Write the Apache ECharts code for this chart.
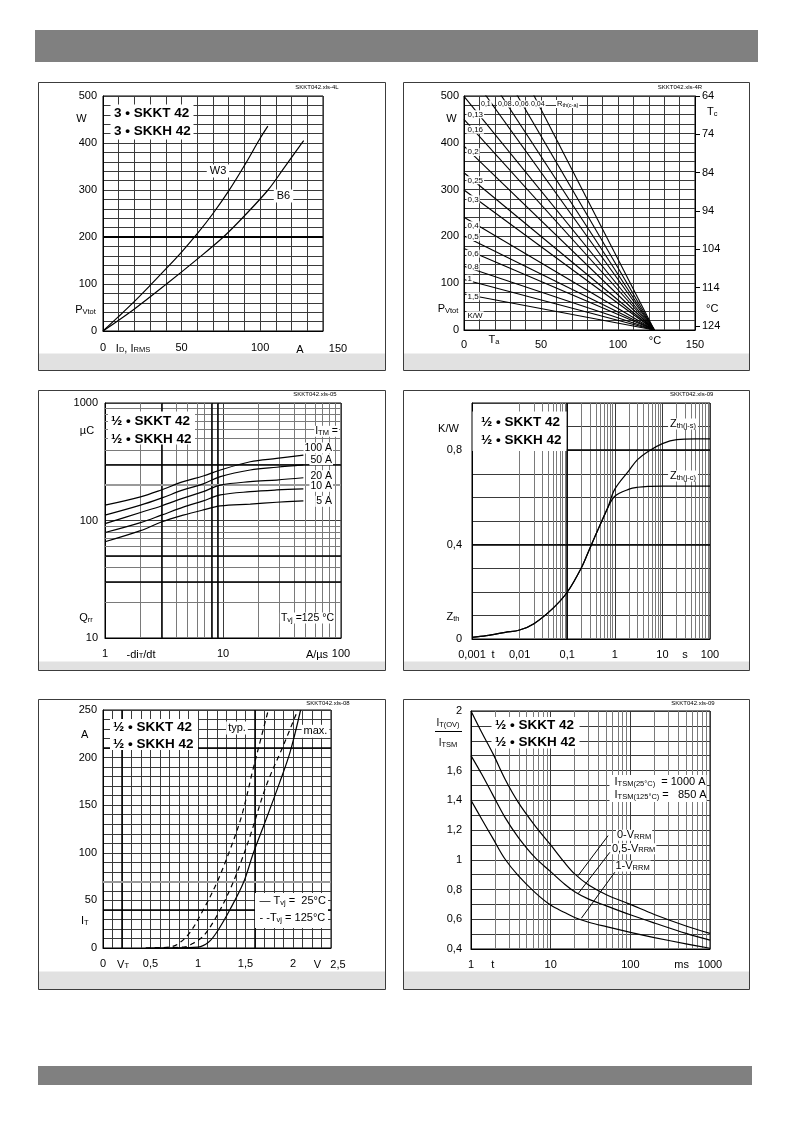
<!DOCTYPE html>
<html><head><meta charset="utf-8">
<script src="https://cdn.jsdelivr.net/npm/echarts/dist/echarts.min.js"></script>
<style>html,body{margin:0;padding:0;background:#fff}#c{width:793px;height:1123px}</style>
</head><body><div id="c"></div>
<script>
// ---------- DATA ----------
// Panel 1: P_Vtot (W) vs I_D / I_RMS (A)
const p1CurrentW3 = [0, 10, 20, 30, 40, 50, 60, 70, 80, 90, 100, 104.9];
const p1PowerW3   = [0, 31, 63, 97, 132, 168, 207, 250, 298, 352, 410, 436];
const p1CurrentB6 = [0, 20, 40.4, 60, 76.6, 90, 105, 115, 125.5, 127.7];
const p1PowerB6   = [0, 47, 100, 153, 200, 245, 300, 346, 395, 405];

// Panel 2: P_Vtot vs T_a for R_th(c-a) values; power at T_a = 0 and common zero-power point
const p2RthLabels   = ['0,04', '0,06', '0,08', '0,1', '0,13', '0,16', '0,2', '0,25', '0,3', '0,4', '0,5', '0,6', '0,8', '1', '1,5'];
const p2PowerAtTa0  = [792, 696, 623, 566, 499, 450, 393, 336, 299, 241, 201, 174, 136, 108, 77];
const p2TaZeroPower = 123.6;

// Panel 3: Q_rr (µC) vs -di/dt (A/µs) for I_TM
const p3Didt   = [1, 2, 3, 4.6, 6.8, 9.5, 17, 28.5, 48];
const p3Q100A  = [135, 159, 182, 214, 239, 269, 316, 338, 360];
const p3Q50A   = [111, 135, 155, 182, 205, 236, 269, 284, 297];
const p3Q20A   = [94, 117, 133, 155, 176, 200, 214, 221, 231];
const p3Q10A   = [79, 96, 111, 130, 147, 165, 176, 182, 186];
const p3Q5A    = [66, 82, 97, 111, 123, 133, 138, 143, 147];

// Panel 4: Z_th (K/W) vs t (s)
const p4TimeCommon = [0.001, 0.002, 0.005, 0.01, 0.02, 0.05, 0.1, 0.2, 0.3, 0.5, 0.7];
const p4ZthCommon  = [0.007, 0.014, 0.028, 0.038, 0.065, 0.13, 0.198, 0.303, 0.385, 0.487, 0.553];
const p4TimeTail   = [1, 2, 3, 5, 10, 20, 50, 100];
const p4ZthJC      = [0.605, 0.635, 0.643, 0.647, 0.648, 0.648, 0.648, 0.648];
const p4ZthJS      = [0.635, 0.715, 0.76, 0.795, 0.828, 0.845, 0.848, 0.848];

// Panel 5: I_T (A) vs V_T (V)
const p5VDashTyp = [0.45, 0.7, 0.8, 0.92, 1.06, 1.2, 1.34, 1.46, 1.58, 1.67, 1.74];
const p5IDashTyp = [0, 1, 5, 17, 41, 69, 104, 139, 188, 223, 250];
const p5VDashMax = [0.45, 0.85, 0.95, 1.06, 1.2, 1.34, 1.44, 1.55, 1.72, 1.9, 2.05];
const p5IDashMax = [0, 1, 5, 13, 34, 62, 87, 118, 171, 213, 250];
const p5VSolid   = [0.5, 1.0, 1.11, 1.2, 1.34, 1.48, 1.58, 1.72, 1.86, 1.97, 2.08];
const p5ISolid   = [0, 1, 6, 17, 41, 69, 99, 136, 174, 206, 250];

// Panel 6: I_T(OV)/I_TSM vs t (ms)
const p6Time = [1, 1.36, 1.9, 2.67, 3.92, 6.34, 10, 15, 20, 30, 50, 100, 200, 500, 1000];
const p6V0   = [2.0, 1.857, 1.71, 1.543, 1.386, 1.23, 1.10, 0.98, 0.905, 0.83, 0.765, 0.70, 0.632, 0.555, 0.505];
const p6V05  = [1.70, 1.576, 1.431, 1.285, 1.151, 1.016, 0.92, 0.835, 0.785, 0.735, 0.69, 0.63, 0.575, 0.505, 0.46];
const p6V1   = [1.40, 1.274, 1.14, 1.005, 0.893, 0.781, 0.695, 0.645, 0.612, 0.58, 0.55, 0.512, 0.477, 0.435, 0.405];
const p6LeaderFrom = [[52.6, 1.162], [55.3, 1.05], [63.9, 0.916]];
const p6LeaderTo   = [[22.1, 0.893], [22.1, 0.772], [24.3, 0.607]];

// Tick label values shown
const p1XLabels = [0, 50, 100];
const p1YLabels = [0, 100, 200, 300, 400, 500];
const p2XLabels = [0, 50, 100, 150];
const p4YLabels = [0, 0.4, 0.8];
const p5XLabels = [0, 0.5, 1, 1.5, 2];
const p5YLabels = [0, 50, 100, 150, 200, 250];
const p6YLabels = [0.4, 0.6, 0.8, 1, 1.2, 1.4, 1.6, 2];

// ---------- STYLE / HELPERS ----------
const FONT = "'Liberation Sans', Arial, Helvetica, sans-serif";
const GRID = '#3a3a3a';
const MINOR = '#7a7a7a';
const RICH = {
  s:  { font: '7.5px ' + FONT, verticalAlign: 'bottom' },
  t:  { font: '5.5px ' + FONT, verticalAlign: 'bottom' }
};
const comma = v => String(+(+v).toPrecision(6)).replace('.', ',');
const near = (v, list) => list.some(a => Math.abs(a - v) < 1e-6);

function T(x, y, text, o) {
  o = o || {};
  const size = o.size || 11;
  const st = {
    text: text, x: x, y: y, fill: '#000',
    font: (o.bold ? 'bold ' : '') + size + 'px ' + FONT,
    align: o.align || 'center', verticalAlign: 'middle',
    textAlign: o.align || 'center', textVerticalAlign: 'middle',
    rich: RICH
  };
  if (o.bg) { st.backgroundColor = o.bg; st.padding = o.pad || [0, 2]; }
  return { type: 'text', z: 100, silent: true, style: st };
}
function R(x, y, w, h, fill, stroke, z) {
  return { type: 'rect', z: z || 0, silent: true, shape: { x: x, y: y, width: w, height: h },
    style: { fill: fill || 'none', stroke: stroke || null, lineWidth: 1 } };
}
function L(x1, y1, x2, y2) {
  return { type: 'line', z: 100, silent: true, shape: { x1: x1, y1: y1, x2: x2, y2: y2 }, style: { stroke: '#000', lineWidth: 1 } };
}
function logMinor(e0, e1) { const out = []; for (let e = e0; e < e1; e++) for (let k = 2; k <= 9; k++) out.push(+(k * Math.pow(10, e)).toPrecision(6)); return out; }

function axis(gi, type, o) {
  const a = {
    type: type, gridIndex: gi, min: o.min, max: o.max,
    axisLine: { show: true, onZero: false, lineStyle: { color: '#000', width: 1 } },
    axisTick: { show: false },
    axisLabel: { color: '#000', fontSize: 11, fontFamily: FONT, margin: o.margin, formatter: o.fmt, showMinLabel: true, showMaxLabel: true, hideOverlap: false },
    splitLine: { show: true, lineStyle: { color: GRID, width: 1 } }
  };
  if (o.interval !== undefined) a.interval = o.interval;
  if (type === 'log') a.logBase = 10;
  return a;
}
function curve(xi, yi, xs, ys, o) {
  o = o || {};
  return {
    type: 'line', xAxisIndex: xi, yAxisIndex: yi, data: xs.map((x, i) => [x, ys[i]]),
    symbol: 'none', showSymbol: false, smooth: o.smooth === undefined ? 0.35 : o.smooth,
    lineStyle: { color: '#000', width: o.width || 1.2, type: o.type || 'solid' },
    silent: true, z: 3, clip: true
  };
}
function rules(xi, yi, anchor, xs, ys, color, width) {
  return {
    type: 'line', xAxisIndex: xi, yAxisIndex: yi, data: [anchor], symbol: 'none', showSymbol: false,
    lineStyle: { opacity: 0 }, silent: true, z: 1,
    markLine: { silent: true, symbol: ['none', 'none'], label: { show: false }, z: 1, animation: false,
      lineStyle: { color: color, width: width, type: 'solid' }, emphasis: { disabled: true },
      data: xs.map(v => ({ xAxis: v })).concat(ys.map(v => ({ yAxis: v }))) }
  };
}

// ---------- AXES ----------
const xAxes = [
  axis(0, 'value', { min: 0, max: 140, interval: 10, margin: 11, fmt: v => near(v, p1XLabels) ? String(v) : '' }),
  axis(1, 'value', { min: 0, max: 150, interval: 10, margin: 9, fmt: v => near(v, p2XLabels) ? String(v) : '' }),
  axis(2, 'log', { min: 1, max: 100, margin: 10, fmt: v => String(Math.round(v)) }),
  axis(3, 'log', { min: 0.001, max: 100, margin: 10, fmt: v => comma(v) }),
  axis(4, 'value', { min: 0, max: 2.4, interval: 0.1, margin: 10, fmt: v => near(v, p5XLabels) ? comma(v) : '' }),
  axis(5, 'log', { min: 1, max: 1000, margin: 10, fmt: v => String(Math.round(v)) })
];
const yAxes = [
  axis(0, 'value', { min: 0, max: 500, interval: 20, margin: 6, fmt: v => near(v, p1YLabels) ? String(v) : '' }),
  axis(1, 'value', { min: 0, max: 500, interval: 20, margin: 5, fmt: v => near(v, p1YLabels) ? String(v) : '' }),
  {
    type: 'value', gridIndex: 1, position: 'right', min: 60, max: 121.1, interval: 10, inverse: true,
    axisLine: { show: true, onZero: false, lineStyle: { color: '#000', width: 1 } },
    axisTick: { show: true, length: 5, lineStyle: { color: '#000' } },
    axisLabel: { color: '#000', fontSize: 11, fontFamily: FONT, margin: 7, showMaxLabel: false,
      formatter: v => (Math.abs(v / 10 - Math.round(v / 10)) < 1e-6 ? String(Math.round(v) + 4) : '') },
    splitLine: { show: false }
  },
  axis(2, 'log', { min: 10, max: 1000, margin: 7, fmt: v => String(Math.round(v)) }),
  axis(3, 'value', { min: 0, max: 1, interval: 0.1, margin: 10, fmt: v => near(v, p4YLabels) ? comma(v) : '' }),
  axis(4, 'value', { min: 0, max: 250, interval: 10, margin: 6, fmt: v => near(v, p5YLabels) ? String(v) : '' }),
  axis(5, 'value', { min: 0.4, max: 2, interval: 0.1, margin: 9, fmt: v => near(v, p6YLabels) ? comma(v) : '' })
];

// ---------- SERIES ----------
const series = [];
series.push(rules(0, 0, [0, 0], [], [200], '#000', 1.8));
series.push(rules(2, 3, [1, 10], logMinor(0, 2), logMinor(1, 3), MINOR, 1));
series.push(rules(2, 3, [1, 10], [3, 8, 9], [30, 50, 300], '#000', 1.5));
series.push(rules(2, 3, [1, 10], [], [200], '#9a9a9a', 2));
series.push(rules(3, 4, [0.001, 0], logMinor(-3, 2), [], MINOR, 1));
series.push(rules(3, 4, [0.001, 0], [0.003, 0.1], [0.4, 0.8], '#000', 1.5));
series.push(rules(4, 5, [0, 0], [0.2, 1.6], [40, 210], '#000', 1.5));
series.push(rules(4, 5, [0, 0], [], [70], '#9a9a9a', 2));
series.push(rules(5, 6, [1, 0.4], logMinor(0, 3), [], MINOR, 1));

series.push(curve(0, 0, p1CurrentW3, p1PowerW3));
series.push(curve(0, 0, p1CurrentB6, p1PowerB6));
p2RthLabels.forEach((lab, i) => {
  series.push(curve(1, 1, [0, p2TaZeroPower], [p2PowerAtTa0[i], 0], { smooth: false, width: 1.1 }));
});
[p3Q100A, p3Q50A, p3Q20A, p3Q10A, p3Q5A].forEach(q => series.push(curve(2, 3, p3Didt, q)));
series.push(curve(3, 4, p4TimeCommon.concat(p4TimeTail), p4ZthCommon.concat(p4ZthJC)));
series.push(curve(3, 4, p4TimeCommon.concat(p4TimeTail), p4ZthCommon.concat(p4ZthJS)));
series.push(curve(4, 5, p5VDashTyp, p5IDashTyp, { type: [5, 4] }));
series.push(curve(4, 5, p5VDashMax, p5IDashMax, { type: [5, 4] }));
series.push(curve(4, 5, p5VSolid, p5ISolid));
const s6 = curve(5, 6, p6Time, p6V0);
s6.markLine = { silent: true, symbol: ['none', 'none'], label: { show: false }, animation: false,
  lineStyle: { color: '#000', width: 1, type: 'solid' }, emphasis: { disabled: true },
  data: p6LeaderFrom.map((p, i) => [{ coord: p }, { coord: p6LeaderTo[i] }]) };
series.push(s6);
series.push(curve(5, 6, p6Time, p6V05));
series.push(curve(5, 6, p6Time, p6V1));

// ---------- PAGE GRAPHICS ----------
const g = [];
g.push(R(35, 30, 723, 32, '#808080'));
g.push(R(38, 1066, 714, 19, '#808080'));
[[38.5, 82.5, 347, 288, 353.5], [403.5, 82.5, 346, 288, 353.5],
 [38.5, 390.5, 347, 280, 661.5], [403.5, 390.5, 346, 280, 661.5],
 [38.5, 699.5, 347, 290, 971.5], [403.5, 699.5, 346, 290, 971.5]].forEach(p => {
  g.push(R(p[0] + 0.5, p[4], p[2] - 1, p[1] + p[3] - p[4], '#e1e1e1'));
  g.push(R(p[0], p[1], p[2], p[3], 'none', '#3c3c3c', 1));
});

// Panel 1 texts
g.push(T(317, 87, 'SKKT042.xls-4L', { size: 6 }));
g.push(R(110.5, 104.5, 83, 35, '#fff', null, 99));
g.push(T(114, 113.5, '3 • SKKT 42', { bold: true, size: 13.5, align: 'left' }));
g.push(T(114, 131.5, '3 • SKKH 42', { bold: true, size: 13.5, align: 'left' }));
g.push(T(218, 171, 'W3', { bg: '#fff', pad: [1, 3] }));
g.push(T(283.5, 196, 'B6', { bg: '#fff', pad: [1, 3] }));
g.push(T(81.5, 119, 'W'));
g.push(T(85.5, 310, 'P{s|Vtot}'));
g.push(T(133, 348.5, 'I{s|D}, I{s|RMS}'));
g.push(T(300, 350, 'A'));
g.push(T(338, 348.5, '150'));

// Panel 2 texts
g.push(T(680, 87, 'SKKT042.xls-4R', { size: 6 }));
g.push(T(451.5, 119, 'W'));
g.push(T(448, 309, 'P{s|Vtot}'));
g.push(T(494, 340, 'T{s|a}'));
g.push(T(655, 341, '°C'));
g.push(T(707, 112, 'T{s|c}', { align: 'left' }));
g.push(T(706, 309, '°C', { align: 'left' }));
const p2LabelY = { '0,13': 114.3, '0,16': 129.7, '0,2': 152, '0,25': 180.3, '0,3': 199.3, '0,4': 225.3,
  '0,5': 237, '0,6': 253.7, '0,8': 266.3, '1': 278.7, '1,5': 296.3 };
Object.keys(p2LabelY).forEach(k => g.push(T(466.5, p2LabelY[k], k, { size: 8, align: 'left', bg: '#fff', pad: [0, 1] })));
g.push(T(466.5, 315.3, 'K/W', { size: 8, align: 'left', bg: '#fff', pad: [0, 1] }));
[['0,1', 480], ['0,08', 497], ['0,06', 514], ['0,04', 530]].forEach(p => g.push(T(p[1], 104, p[0], { size: 7, align: 'left', bg: '#fff', pad: [0, 1] })));
g.push(T(556, 104, 'R{t|th(c-a)}', { size: 7.5, align: 'left', bg: '#fff', pad: [0, 1] }));

// Panel 3 texts
g.push(T(315, 394, 'SKKT042.xls-05', { size: 6 }));
g.push(R(108, 411.5, 87, 33, '#fff', null, 99));
g.push(T(111, 421.3, '½ • SKKT 42', { bold: true, size: 13.5, align: 'left' }));
g.push(T(111, 439.7, '½ • SKKH 42', { bold: true, size: 13.5, align: 'left' }));
g.push(T(87, 431.3, 'µC'));
g.push(T(86, 618, 'Q{s|rr}'));
g.push(T(339, 431.3, 'I{s|TM} =', { align: 'right', bg: '#fff', pad: [0, 1], size: 10.5 }));
[['100 A', 448], ['50 A', 459.7], ['20 A', 475.7], ['10 A', 486.3], ['5 A', 501.3]].forEach(p =>
  g.push(T(333, p[1], p[0], { align: 'right', bg: '#fff', pad: [0, 1], size: 10.5 })));
g.push(T(335, 618, 'T{s|vj} =125 °C', { align: 'right', bg: '#fff', pad: [0, 1], size: 10.5 }));
g.push(T(141, 654.7, '-di{s|T}/dt'));
g.push(T(317, 654.7, 'A/µs'));

// Panel 4 texts
g.push(T(691.7, 394, 'SKKT042.xls-09', { size: 6 }));
g.push(R(472.5, 411.5, 94, 39.5, '#fff', null, 99));
g.push(T(481, 422, '½ • SKKT 42', { bold: true, size: 13.5, align: 'left' }));
g.push(T(481, 440.7, '½ • SKKH 42', { bold: true, size: 13.5, align: 'left' }));
g.push(T(683, 424, 'Z{s|th(j-s)}', { bg: '#fff', pad: [0, 2] }));
g.push(T(683, 476, 'Z{s|th(j-c)}', { bg: '#fff', pad: [0, 2] }));
g.push(T(448.5, 428.7, 'K/W'));
g.push(T(453, 617, 'Z{s|th}'));
g.push(T(493, 654.7, 't'));
g.push(T(685, 654.7, 's'));

// Panel 5 texts
g.push(T(328, 703, 'SKKT042.xls-08', { size: 6 }));
g.push(R(110, 719, 88, 31, '#fff', null, 99));
g.push(T(113, 727.3, '½ • SKKT 42', { bold: true, size: 13.5, align: 'left' }));
g.push(T(113, 744, '½ • SKKH 42', { bold: true, size: 13.5, align: 'left' }));
g.push(T(237, 728, 'typ.', { bg: '#fff', pad: [1, 2] }));
g.push(T(315.5, 731.3, 'max.', { bg: '#fff', pad: [1, 2] }));
g.push(R(255, 893, 73, 35, '#fff', null, 99));
g.push(T(259.5, 901.3, '— T{s|vj} =  25°C', { align: 'left' }));
g.push(T(259.5, 918, '- -T{s|vj} = 125°C', { align: 'left' }));
g.push(T(84.7, 734.7, 'A'));
g.push(T(84.7, 921.3, 'I{s|T}'));
g.push(T(123, 964.7, 'V{s|T}'));
g.push(T(317.3, 964.7, 'V'));
g.push(T(338, 964.7, '2,5'));

// Panel 6 texts
g.push(T(693, 703, 'SKKT042.xls-09', { size: 6 }));
g.push(R(491.5, 717, 88, 31.5, '#fff', null, 99));
g.push(T(495, 725.3, '½ • SKKT 42', { bold: true, size: 13.5, align: 'left' }));
g.push(T(495, 742.7, '½ • SKKH 42', { bold: true, size: 13.5, align: 'left' }));
g.push(T(448, 723.5, 'I{s|T(OV)}', { size: 10 }));
g.push(L(435, 731.5, 462, 731.5));
g.push(T(448, 743.5, 'I{s|TSM}', { size: 10 }));
g.push(R(609.5, 775, 97, 27, '#fff', null, 99));
g.push(T(614.5, 782, 'I{s|TSM(25°C)}  = 1000 A', { align: 'left' }));
g.push(T(614.5, 795.3, 'I{s|TSM(125°C)} =   850 A', { align: 'left' }));
g.push(T(616, 835.3, '0-V{s|RRM}', { align: 'left', bg: '#fff', pad: [0, 1] }));
g.push(T(611, 848.7, '0,5-V{s|RRM}', { align: 'left', bg: '#fff', pad: [0, 1] }));
g.push(T(614.5, 866, '1-V{s|RRM}', { align: 'left', bg: '#fff', pad: [0, 1] }));
g.push(T(492.7, 964.7, 't'));
g.push(T(681.7, 964.7, 'ms'));

const gridBox = (l, t, w, h) => ({ left: l, top: t, width: w, height: h, show: true, borderColor: '#000', borderWidth: 1, containLabel: false });
const option = {
  animation: false,
  backgroundColor: '#fff',
  textStyle: { fontFamily: FONT },
  grid: [
    gridBox(103, 96, 220, 235),
    gridBox(464, 96, 231, 234),
    gridBox(105, 403, 236, 235),
    gridBox(472, 403, 238, 236),
    gridBox(103, 710, 228, 238),
    gridBox(471, 711, 239, 238)
  ],
  xAxis: xAxes,
  yAxis: yAxes,
  series: series,
  graphic: { elements: g }
};
const chart = echarts.init(document.getElementById('c'), null, { renderer: 'canvas', width: 793, height: 1123 });
chart.setOption(option);
</script></body></html>
